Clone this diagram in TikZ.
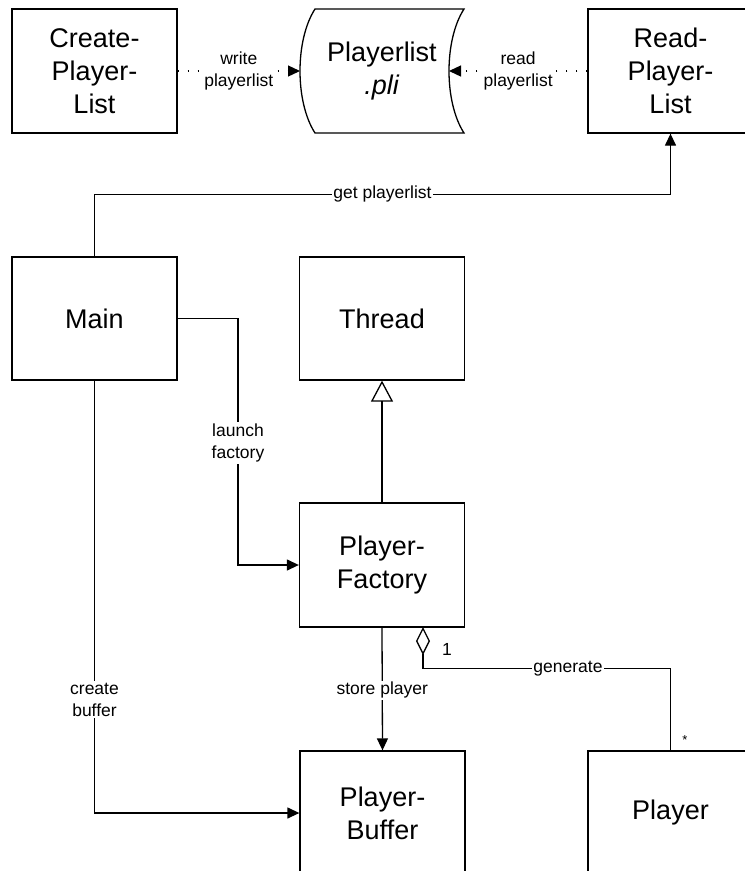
\documentclass[tikz,border=0pt]{standalone}
\usepackage{fontspec}
\setmainfont{Liberation Sans}
\usetikzlibrary{arrows.meta}

\tikzset{
  cls/.style={draw, line width=1.3pt, minimum width=165pt, minimum height=124pt,
              inner sep=0pt, align=center, font=\fontsize{27}{33}\selectfont},
  conn/.style={line width=1.3pt},
  arr/.style={conn, -{Triangle[length=12pt,width=11pt]}},
  dotline/.style={line width=1.3pt, dash pattern=on 1.4pt off 8.6pt,
                  -{Triangle[length=12pt,width=11pt]}},
  inherit/.style={conn, -{Triangle[open,length=21pt,width=22pt,line width=1.3pt]}},
  aggr/.style={conn, {Diamond[open,length=28pt,width=14pt,line width=1.3pt]}-},
  lbl/.style={fill=white, inner sep=1.5pt, align=center,
              font=\fontsize{17.5}{22}\selectfont},
  mult/.style={inner sep=0pt, font=\fontsize{17.5}{22}\selectfont}
}

\begin{document}
\begin{tikzpicture}[x=1pt,y=-1pt]
  \useasboundingbox (0,0) rectangle (745,871);
  \clip (0,0) rectangle (745,871);

  % class boxes
  \node[cls] (create)  at (94.5,71)    {Create-\\Player-\\List};
  \node[cls] (read)    at (670.5,71)   {Read-\\Player-\\List};
  \node[cls, minimum height=123pt] (main)   at (94.5,318.5) {Main};
  \node[cls, minimum height=123pt] (thread) at (382,318.5)  {Thread};
  \node[cls] (factory) at (382,565)    {Player-\\Factory};
  \node[cls] (buffer)  at (382.5,813)  {Player-\\Buffer};
  \node[cls] (player)  at (670.5,813)  {Player};

  % the player list file
  \draw[line width=1.3pt]
    (315,9) -- (464,9)
    .. controls (444,40) and (444,102) .. (464,133)
    -- (315,133)
    .. controls (295,102) and (295,40) .. (315,9) -- cycle;
  \node[align=center, font=\fontsize{27}{33}\selectfont] (pli) at (382,71.5)
    {Playerlist\\\textit{.pli}};
  \coordinate (pliW) at (300,71);
  \coordinate (pliE) at (449,71);

  % file access
  \draw[dotline] (create.east |- pliW) -- node[lbl, pos=0.5] {write\\playerlist} (pliW);
  \draw[dotline] (read.west |- pliE) -- node[lbl, pos=0.5] {read\\playerlist} (pliE);

  % main control flow
  \draw[arr] (main.north) -- ++(0,-62) -| node[lbl, pos=0.25] {get playerlist} (read.south);

  \coordinate (lf) at (238,443);
  \draw[arr] (main.east) -| (lf) |- (factory.west);
  \node[lbl] at (lf) {launch\\factory};

  \coordinate (cb) at (94.5,699.5);
  \draw[arr] (main.south) -- (cb) |- (buffer.west);
  \node[lbl] at (cb) {create\\buffer};

  \draw[arr] (factory.south) -- node[lbl, pos=0.51] {store player} (buffer.north);

  % inheritance
  \draw[inherit] (factory.north) -- (thread.south);

  % aggregation
  \coordinate (agg) at (423,627);
  \draw[aggr] (agg) -- ++(0,41.5) -| node[lbl, pos=0.293] {generate} (player.north);
  \node[mult] at (447,649) {1};
  \node[mult, font=\fontsize{13}{15}\selectfont] at (685,740) {*};
\end{tikzpicture}
\end{document}
